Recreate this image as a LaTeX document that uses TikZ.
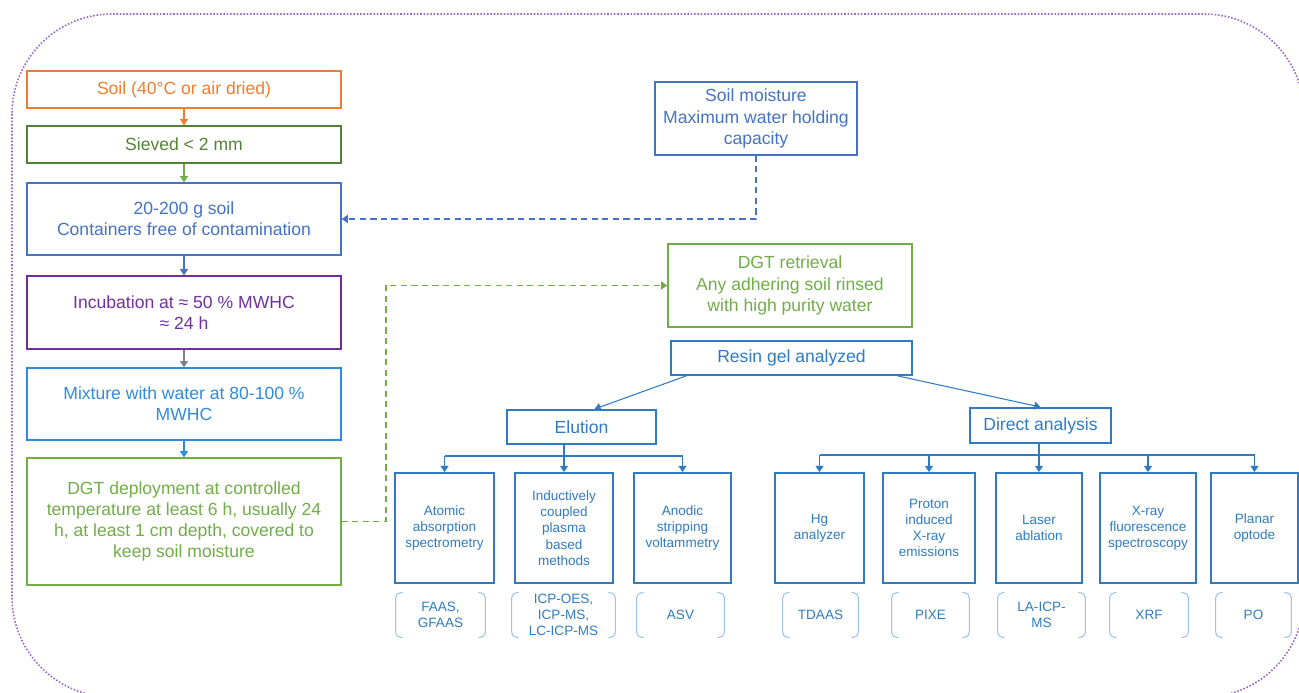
\documentclass[tikz,border=0pt]{standalone}
\usepackage{fontspec}
\setmainfont{Liberation Sans}
\usepackage{tikz}
\usetikzlibrary{shapes,arrows,arrows.meta,positioning,calc}

\definecolor{soilorange}{HTML}{ED7D31}
\definecolor{sievegreen}{HTML}{548235}
\definecolor{lightgreen}{HTML}{70AD47}
\definecolor{soilblue}{HTML}{4472C4}
\definecolor{incpurple}{HTML}{7030A0}
\definecolor{mixblue}{HTML}{2E8BDD}
\definecolor{treeblue}{HTML}{2E7BC4}
\definecolor{brkblue}{HTML}{9DC3E6}
\definecolor{framepurple}{HTML}{9966CC}

\tikzset{
  stepbox/.style={draw,line width=0.8pt,minimum width=6.28cm,align=center,
    font=\fontsize{10}{12}\selectfont},
  treebox/.style={draw=treeblue,text=treeblue,line width=1.1pt,align=center,
    font=\fontsize{10}{12}\selectfont},
  methodbox/.style={treebox,minimum height=2.2cm,font=\fontsize{7.7}{9.2}\selectfont},
  abbrev/.style={text=treeblue,align=center,minimum height=0.88cm,inner sep=0pt,
    font=\fontsize{7.7}{9.2}\selectfont},
  brk/.style={draw=brkblue,line width=0.6pt,rounded corners=0.1cm},
  flowarrow/.style={-{Triangle[width=4.5pt,length=3.5pt]},line width=0.6pt},
  treearrow/.style={-{Triangle[width=4.5pt,length=3.5pt]},draw=treeblue,line width=0.6pt},
  treeline/.style={draw=treeblue,line width=0.6pt},
  dashlink/.style={-{Triangle[width=4.5pt,length=3.5pt]},line width=0.9pt,
    dash pattern=on 3.5pt off 2.5pt}
}

\begin{document}
\begin{tikzpicture}[x=0.02cm,y=-0.02cm]
      \useasboundingbox (0,0) rectangle (1299,693);
      \clip (0,0) rectangle (1299,693);
      \draw[framepurple,densely dotted,line width=0.9pt,rounded corners=2cm] (12,14) rectangle (1304,697);

      % sample preparation column
      \node[stepbox,draw=soilorange,text=soilorange,minimum height=0.74cm] (soil) at (184,89.5) {Soil (40°C or air dried)};
      \node[stepbox,draw=sievegreen,text=sievegreen,minimum height=0.74cm] (sieved) at (184,144.5) {Sieved < 2 mm};
      \node[stepbox,draw=soilblue,text=soilblue,minimum height=1.44cm] (grams) at (184,219) {20-200 g soil\\Containers free of contamination};
      \node[stepbox,draw=incpurple,text=incpurple,minimum height=1.46cm] (incub) at (184,312.5) {Incubation at ≈ 50 \% MWHC\\≈ 24 h};
      \node[stepbox,draw=mixblue,text=mixblue,minimum height=1.44cm] (mix) at (184,404) {Mixture with water at 80-100 \%\\MWHC};
      \node[stepbox,draw=lightgreen,text=lightgreen,minimum height=2.54cm] (deploy) at (184,521.5) {DGT deployment at controlled\\temperature at least 6 h, usually 24\\h, at least 1 cm depth, covered to\\keep soil moisture};

      \draw[flowarrow,soilorange] (soil) -- (sieved);
      \draw[flowarrow,lightgreen] (sieved) -- (grams);
      \draw[flowarrow,soilblue] (grams) -- (incub);
      \draw[flowarrow,gray] (incub) -- (mix);
      \draw[flowarrow,mixblue] (mix) -- (deploy);

      % moisture and retrieval
      \node[stepbox,draw=soilblue,text=soilblue,minimum width=4.04cm,minimum height=1.46cm] (moist) at (756,118.5) {Soil moisture\\Maximum water holding\\capacity};
      \node[stepbox,draw=lightgreen,text=lightgreen,minimum width=4.88cm,minimum height=1.66cm] (retr) at (790,285.5) {DGT retrieval\\Any adhering soil rinsed\\with high purity water};

      \draw[dashlink,color=soilblue] (moist.south) |- (grams.east);
      \draw[dashlink,color=lightgreen,line width=1.1pt] (deploy.east) -- ++(44,0) |- (retr.west);

      % analysis tree
      \node[treebox,minimum width=4.82cm,minimum height=0.68cm] (resin) at (791.5,358) {Resin gel analyzed};
      \node[treebox,minimum width=2.98cm,minimum height=0.68cm] (elution) at (581.5,427) {Elution};
      \node[treebox,minimum width=2.82cm,minimum height=0.7cm] (direct) at (1040.5,425.5) {Direct analysis};

      \draw[treearrow] ([xshift=0.32cm]resin.south west) -- ([xshift=0.26cm]elution.north);
      \draw[treearrow] ([xshift=-0.3cm]resin.south east) -- (direct.north);

      \node[methodbox,minimum width=1.98cm] (aas) at (444.5,528) {Atomic\\absorption\\spectrometry};
      \node[methodbox,minimum width=1.96cm] (icp) at (564,528) {Inductively\\coupled\\plasma\\based\\methods};
      \node[methodbox,minimum width=1.94cm] (asv) at (682.5,528) {Anodic\\stripping\\voltammetry};
      \node[methodbox,minimum width=1.78cm] (hg) at (819.5,528) {Hg\\analyzer};
      \node[methodbox,minimum width=1.84cm] (proton) at (929,528) {Proton\\induced\\X-ray\\emissions};
      \node[methodbox,minimum width=1.72cm] (laser) at (1039,528) {Laser\\ablation};
      \node[methodbox,minimum width=1.92cm] (xray) at (1148,528) {X-ray\\fluorescence\\spectroscopy};
      \node[methodbox,minimum width=1.74cm] (optode) at (1254.5,528) {Planar\\optode};

      \coordinate (ej) at (564,456);
      \coordinate (dj) at (1039,455);
      \draw[treeline] (elution.south -| icp.north) -- (ej);
      \draw[treeline] (aas.north |- ej) -- (asv.north |- ej);
      \foreach \m in {aas,icp,asv} \draw[treearrow] (\m.north |- ej) -- (\m.north);
      \draw[treeline] (direct.south -| laser.north) -- (dj);
      \draw[treeline] (hg.north |- dj) -- (optode.north |- dj);
      \foreach \m in {hg,proton,laser,xray,optode} \draw[treearrow] (\m.north |- dj) -- (\m.north);

      % abbreviations
      \node[abbrev,minimum width=1.78cm] (faas) at (440.5,615) {FAAS,\\GFAAS};
      \node[abbrev,minimum width=2.06cm] (icpms) at (563.5,615) {ICP-OES,\\ICP-MS,\\LC-ICP-MS};
      \node[abbrev,minimum width=1.74cm] (asvl) at (680.5,615) {ASV};
      \node[abbrev,minimum width=1.5cm] (tdaas) at (820.5,615) {TDAAS};
      \node[abbrev,minimum width=1.54cm] (pixe) at (930.5,615) {PIXE};
      \node[abbrev,minimum width=1.74cm] (laicp) at (1041.5,615) {LA-ICP-\\MS};
      \node[abbrev,minimum width=1.56cm] (xrf) at (1149,615) {XRF};
      \node[abbrev,minimum width=1.5cm] (po) at (1253.5,615) {PO};

      \foreach \b in {faas,icpms,asvl,tdaas,pixe,laicp,xrf,po}{
        \draw[brk] ([xshift=0.14cm]\b.north west) -- (\b.north west) -- (\b.south west) -- ([xshift=0.14cm]\b.south west);
        \draw[brk] ([xshift=-0.14cm]\b.north east) -- (\b.north east) -- (\b.south east) -- ([xshift=-0.14cm]\b.south east);
      }
    \end{tikzpicture}
\end{document}
